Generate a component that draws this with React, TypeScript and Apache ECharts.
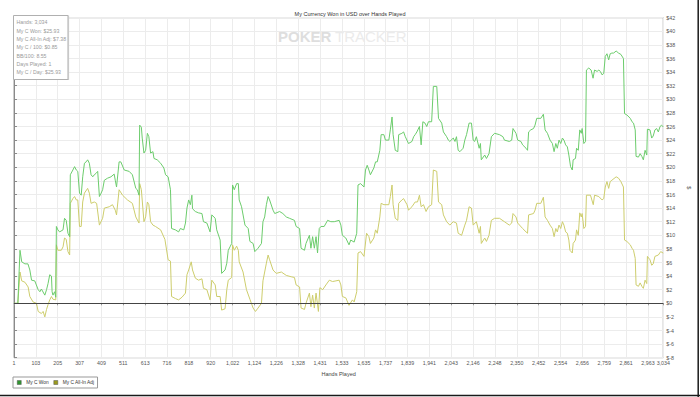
import React, { useEffect, useRef } from "react";
import * as echarts from "echarts";

const FONT = "'Liberation Sans', Arial, sans-serif";

const titleText = "My Currency Won in USD over Hands Played";
const seriesNames = ["My C Won", "My C All-In Adj"];

const xTickLabels = [
  "1", "103", "205", "307", "409", "511", "613", "716", "818", "920",
  "1,022", "1,124", "1,226", "1,328", "1,431", "1,533", "1,635", "1,737", "1,839", "1,941",
  "2,043", "2,146", "2,248", "2,350", "2,452", "2,554", "2,656", "2,759", "2,861", "2,963", "3,034",
];
const totalHands = 3034;
const tickStep = 102.122;

const infoLines = [
  "Hands: 3,034",
  "My C Won: $25.93",
  "My C All-In Adj: $7.38",
  "My C / 100: $0.85",
  "BB/100: 8.55",
  "Days Played: 1",
  "My C / Day: $25.93",
];

const wonHands = [
  1, 19, 29, 37, 52, 66, 75, 83, 98, 114, 122, 129, 145, 153, 160, 168, 176, 179, 183, 191, 196,
  199, 206, 214, 230, 237, 245, 253, 261, 264, 276, 284, 292, 299, 307, 315, 322, 330, 338, 345,
  353, 361, 369, 376, 384, 392, 400, 408, 415, 423, 438, 454, 469, 474, 480, 492, 500, 516, 539,
  554, 570, 577, 585, 588, 596, 600, 608, 616, 624, 631, 639, 650, 655, 670, 686, 701, 709, 721,
  732, 737, 755, 770, 778, 794, 802, 809, 817, 825, 832, 835, 848, 863, 879, 886, 902, 917, 925,
  941, 948, 964, 971, 987, 995, 1002, 1010, 1018, 1022, 1030, 1041, 1049, 1053, 1064, 1080, 1095,
  1103, 1118, 1126, 1141, 1157, 1164, 1172, 1180, 1188, 1195, 1211, 1219, 1242, 1257, 1273, 1288,
  1311, 1319, 1335, 1342, 1358, 1365, 1381, 1388, 1396, 1404, 1412, 1419, 1427, 1435, 1450, 1466,
  1481, 1497, 1520, 1528, 1535, 1551, 1566, 1574, 1590, 1602, 1608, 1620, 1636, 1643, 1651, 1659,
  1666, 1682, 1690, 1698, 1710, 1716, 1729, 1736, 1752, 1759, 1767, 1772, 1782, 1794, 1798, 1813,
  1821, 1829, 1844, 1860, 1868, 1875, 1883, 1895, 1903, 1911, 1921, 1929, 1937, 1952, 1960, 1976,
  1984, 1999, 2007, 2022, 2030, 2037, 2053, 2061, 2068, 2076, 2084, 2099, 2107, 2115, 2127, 2138,
  2146, 2153, 2161, 2174, 2180, 2184, 2200, 2208, 2220, 2231, 2246, 2269, 2285, 2292, 2315, 2326,
  2332, 2346, 2354, 2369, 2377, 2393, 2400, 2405, 2415, 2428, 2435, 2443, 2462, 2474, 2482, 2493,
  2505, 2516, 2524, 2532, 2539, 2547, 2555, 2563, 2570, 2578, 2586, 2593, 2601, 2609, 2613, 2624,
  2629, 2637, 2644, 2651, 2655, 2663, 2671, 2675, 2686, 2697, 2706, 2713, 2725, 2733, 2740, 2748,
  2756, 2763, 2771, 2779, 2786, 2794, 2802, 2814, 2825, 2836, 2848, 2853, 2864, 2880, 2888, 2895,
  2903, 2907, 2918, 2926, 2934, 2941, 2949, 2957, 2960, 2972, 2980, 2987, 2995, 3003, 3011, 3019,
  3026, 3034,
];
const wonValues = [
  0, 0, 7.8, 6.1, 5.8, 5.8, 4.9, 3.4, 3.3, 2.0, 1.7, 2.1, 1.2, 2.0, 2.9, 4.2, 4.0, 1.7, 1.2, 1.7, 0.9,
  11.3, 10.8, 10.5, 10.8, 12.5, 12.2, 10.3, 9.8, 18.9, 19.6, 20.1, 19.6, 19.4, 16.2, 15.9, 18.6, 20.6, 20.8, 21.1,
  20.6, 18.9, 18.6, 18.9, 19.1, 19.4, 15.7, 16.2, 16.7, 18.1, 18.4, 18.6, 19.0, 18.1, 17.1, 20.8, 20.8, 19.6, 19.4,
  18.9, 16.9, 16.7, 15.9, 26.2, 25.9, 24.3, 22.1, 22.5, 25.0, 24.5, 22.1, 22.3, 21.3, 21.1, 20.6, 19.9, 18.9, 18.6,
  16.7, 11.0, 10.8, 10.5, 11.0, 10.8, 11.8, 14.0, 15.2, 14.5, 15.9, 13.9, 13.5, 13.3, 13.2, 12.0, 11.8, 10.5, 13.0,
  12.5, 10.8, 9.3, 4.4, 4.9, 5.9, 7.8, 8.3, 8.8, 17.4, 16.7, 17.6, 17.6, 15.2, 14.2, 11.5, 11.0,
  9.1, 8.8, 7.6, 8.1, 8.8, 12.0, 12.7, 14.5, 15.7, 15.2, 13.7, 13.2, 13.5, 13.2, 12.7, 12.5,
  12.2, 11.3, 11.0, 8.1, 7.8, 8.8, 10.0, 8.1, 9.8, 8.1, 9.8, 7.4, 11.0, 11.3, 11.3, 12.2,
  12.0, 12.0, 12.2, 11.5, 10.0, 9.6, 8.6, 9.3, 9.0, 10.3, 17.4, 17.6, 17.1, 19.6, 20.3, 19.6,
  18.9, 19.9, 20.8, 20.8, 22.5, 24.8, 24.8, 24.0, 24.0, 25.5, 27.4, 24.8, 22.5, 22.3, 24.8, 25.0,
  25.2, 24.5, 23.5, 23.8, 24.5, 24.8, 25.2, 26.0, 23.3, 26.7, 26.5, 26.0, 26.7, 26.7, 31.9, 31.9,
  27.2, 26.5, 25.2, 24.5, 24.0, 23.8, 24.3, 23.8, 24.5, 22.5, 22.3, 22.8, 24.0, 24.8, 26.5, 26.5,
  24.0, 23.8, 24.5, 22.8, 23.5, 21.1, 21.8, 21.3, 22.0, 24.5, 25.0, 24.8, 24.5, 24.0, 23.8, 24.0,
  25.7, 25.0, 24.0, 23.8, 23.3, 22.8, 22.5, 25.2, 25.5, 25.7, 26.2, 27.2, 27.2, 27.8, 25.5, 25.0,
  24.0, 23.5, 22.3, 23.5, 22.8, 24.0, 23.5, 24.3, 24.0, 23.3, 23.0, 21.8, 20.1, 19.6, 21.1, 21.3,
  22.8, 22.5, 25.5, 25.0, 25.7, 23.5, 23.8, 34.3, 34.6, 34.3, 33.1, 34.3, 34.1, 34.3, 34.1, 33.6,
  33.8, 36.3, 36.7, 35.8, 36.7, 36.8, 36.8, 37.1, 36.8, 36.6, 36.0, 27.9, 27.7, 27.2, 26.7, 26.5,
  25.5, 21.6, 21.5, 22.0, 21.6, 21.1, 22.5, 21.8, 25.6, 25.5, 24.3, 24.6, 25.5, 25.7, 25.2, 26.0,
  26.2, 25.93,
];

const adjHands = [
  1, 19, 29, 37, 52, 67, 75, 90, 106, 114, 129, 137, 145, 153, 160, 168, 176, 183, 196,
  199, 206, 222, 230, 237, 245, 253, 261, 264, 276, 284, 292, 299, 307, 315, 322, 330, 345, 353,
  361, 376, 387, 400, 415, 423, 446, 461, 474, 480, 492, 508, 531, 554, 570, 585, 588, 596, 608,
  616, 624, 631, 639, 650, 662, 686, 706, 721, 732, 737, 755, 770, 786, 802, 809, 817, 829, 835,
  848, 863, 879, 886, 902, 917, 925, 941, 948, 964, 971, 987, 995, 1002, 1018, 1022, 1030, 1041,
  1049, 1053, 1071, 1087, 1103, 1118, 1129, 1141, 1157, 1164, 1180, 1188, 1195, 1211, 1226, 1250,
  1273, 1296, 1311, 1319, 1335, 1342, 1358, 1365, 1381, 1388, 1396, 1404, 1412, 1423, 1430, 1443,
  1458, 1474, 1489, 1505, 1520, 1528, 1535, 1551, 1566, 1582, 1590, 1602, 1608, 1620, 1636, 1648,
  1659, 1666, 1682, 1690, 1698, 1710, 1716, 1729, 1752, 1759, 1767, 1772, 1782, 1794, 1798, 1813,
  1821, 1837, 1844, 1860, 1875, 1886, 1895, 1903, 1914, 1926, 1937, 1952, 1960, 1976, 1984, 1999,
  2007, 2022, 2037, 2053, 2068, 2076, 2092, 2107, 2115, 2127, 2138, 2146, 2161, 2174, 2180, 2184,
  2200, 2208, 2220, 2231, 2246, 2269, 2292, 2315, 2326, 2332, 2346, 2354, 2377, 2393, 2400, 2405,
  2428, 2435, 2443, 2462, 2474, 2482, 2493, 2505, 2516, 2524, 2532, 2539, 2547, 2555, 2563, 2570,
  2578, 2586, 2593, 2598, 2609, 2613, 2624, 2629, 2637, 2644, 2651, 2655, 2663, 2671, 2675, 2694,
  2707, 2713, 2733, 2748, 2756, 2763, 2771, 2779, 2786, 2794, 2814, 2825, 2836, 2848, 2853, 2864,
  2880, 2888, 2895, 2903, 2907, 2918, 2926, 2934, 2941, 2949, 2957, 2960, 2972, 2980, 2987, 2995,
  3011, 3022, 3034,
];
const adjValues = [
  0, 0, 4.6, 3.3, 3.1, 2.4, 1.0, 0.2, 0, -1.2, -1.5, -1.2, -2.0, -0.9, -0.2, 0.5, 1.0, 0.6, 0.5,
  8.6, 7.8, 7.8, 8.3, 9.6, 9.4, 7.6, 7.1, 14.7, 15.4, 15.7, 15.2, 15.2, 11.3, 11.3, 14.9, 16.2, 16.9, 16.2,
  14.7, 14.9, 14.7, 11.5, 12.5, 14.0, 14.2, 14.5, 13.7, 13.0, 16.7, 15.9, 15.2, 14.7, 12.7, 11.8, 17.6, 16.7, 12.0,
  12.7, 14.9, 14.5, 12.0, 11.5, 11.3, 10.8, 9.4, 6.4, 6.2, 1.0, 0.7, 0.5, 0.9, 1.5, 4.2, 4.9, 6.1, 4.9,
  3.7, 3.4, 3.6, 2.2, 2.0, 0.5, 3.4, 2.7, 1.0, 1.0, -1.0, -0.8, 2.0, 3.4, 3.8, 8.6, 7.8, 8.4,
  7.8, 6.1, 4.6, 2.0, 0.6, -0.7, -1.2, -0.7, 0.0, 3.3, 5.9, 7.1, 6.4, 4.9, 4.4, 4.6,
  4.1, 3.9, 3.8, 2.7, 2.4, -0.7, -0.9, 0.0, 1.5, -0.5, 1.2, -0.7, 1.5, -1.2, 2.3, 2.0,
  2.7, 3.4, 3.2, 3.3, 3.4, 2.7, 1.0, 0.8, -0.3, 0.5, 0.2, 1.7, 7.4, 7.6, 6.9, 10.3,
  9.8, 8.8, 9.6, 10.8, 10.3, 12.7, 14.7, 14.5, 14.5, 15.7, 17.4, 14.5, 12.5, 12.2, 14.7, 15.2,
  15.4, 14.5, 13.7, 14.2, 14.9, 14.9, 15.9, 14.2, 14.5, 13.5, 14.2, 14.5, 19.6, 19.4, 14.9, 14.5,
  13.0, 12.0, 11.5, 12.0, 11.8, 10.3, 10.0, 11.5, 12.2, 14.2, 14.0, 11.5, 12.0, 10.3, 11.3, 8.8,
  9.6, 9.1, 10.0, 12.2, 12.5, 12.5, 12.0, 11.5, 11.8, 13.2, 12.7, 11.8, 11.0, 10.5, 10.3, 13.0,
  13.2, 13.7, 14.7, 14.7, 15.6, 12.7, 12.2, 11.5, 11.0, 9.8, 11.0, 10.5, 11.5, 11.0, 12.0, 11.5,
  10.5, 10.3, 9.3, 7.8, 7.4, 8.8, 9.3, 10.8, 10.0, 13.3, 12.7, 13.2, 11.0, 11.3, 15.9, 15.9,
  14.5, 15.9, 15.7, 15.2, 15.4, 17.1, 17.9, 16.9, 17.9, 18.1, 18.6, 18.4, 17.9, 17.1, 9.3, 9.1,
  8.6, 8.1, 7.8, 6.6, 2.7, 2.5, 3.0, 2.5, 2.2, 3.4, 2.9, 6.9, 6.4, 5.6, 5.8, 6.9,
  7.1, 7.6, 7.38,
];

const LINE_COLORS = ["#6ccc6c", "#cdcd6c"];
const LEGEND_COLORS = ["#2f962f", "#9a9a1e"];

export default function App() {
  const ref = useRef<HTMLDivElement>(null);

  useEffect(() => {
    if (!ref.current) return;
    const chart = echarts.init(ref.current, null, { renderer: "svg" });

    const wonData = wonHands.map((h, i) => [h - 1, wonValues[i]]);
    const adjData = adjHands.map((h, i) => [h - 1, adjValues[i]]);

    const infoTexts = infoLines.map((t, i) => ({
      type: "text",
      z: 102,
      x: 16.5,
      y: 22.2 + i * 8.35,
      style: {
        text: t,
        fill: "#9a9a9a",
        fontSize: 5.2,
        fontFamily: FONT,
        verticalAlign: "middle",
      },
    }));

    const option: any = {
      animation: false,
      backgroundColor: "#ffffff",
      textStyle: { fontFamily: FONT },
      title: {
        text: titleText,
        left: "center",
        top: 6,
        textStyle: { fontSize: 5.5, fontWeight: "normal", color: "#333", fontFamily: FONT },
      },
      grid: {
        left: 14,
        right: 31.7,
        top: 17.7,
        bottom: 39.3,
        show: true,
        borderColor: "#9a9a9a",
        borderWidth: 1,
      },
      legend: {
        left: 13,
        top: 377,
        orient: "horizontal",
        icon: "rect",
        itemWidth: 4,
        itemHeight: 4,
        itemGap: 5,
        padding: [3, 3, 3, 4],
        borderColor: "#999",
        borderWidth: 1,
        backgroundColor: "#fff",
        textStyle: { fontSize: 4.8, color: "#333", fontFamily: FONT },
        data: seriesNames.map((n, i) => ({ name: n, itemStyle: { color: LEGEND_COLORS[i], borderColor: "#555", borderWidth: 0.5 } })),
      },
      xAxis: {
        type: "value",
        min: 0,
        max: totalHands - 1,
        interval: tickStep,
        name: "Hands Played",
        nameLocation: "middle",
        nameGap: 13,
        nameTextStyle: { fontSize: 5.5, color: "#444", fontFamily: FONT },
        axisLine: { show: true, lineStyle: { color: "#9a9a9a" } },
        axisTick: { show: true, length: 2, lineStyle: { color: "#9a9a9a" } },
        axisLabel: {
          fontSize: 5.3,
          color: "#555",
          margin: 3,
          showMinLabel: true,
          showMaxLabel: true,
          formatter: (v: number) => {
            if (v >= totalHands - 2) return xTickLabels[xTickLabels.length - 1];
            const i = Math.round(v / tickStep);
            return xTickLabels[i] ?? "";
          },
        },
        splitLine: { show: true, lineStyle: { color: "#ececec", width: 1 } },
      },
      yAxis: {
        type: "value",
        position: "right",
        min: -8,
        max: 42,
        interval: 2,
        name: "$",
        nameLocation: "middle",
        nameGap: 17,
        nameRotate: -90,
        nameTextStyle: { fontSize: 5.5, color: "#444", fontFamily: FONT },
        axisLine: { show: true, lineStyle: { color: "#8a8a8a" } },
        axisTick: { show: true, length: 3, lineStyle: { color: "#8a8a8a" } },
        axisLabel: {
          fontSize: 5.3,
          color: "#555",
          margin: 3,
          formatter: (v: number) => "$" + v,
        },
        splitLine: { show: true, lineStyle: { color: "#ececec", width: 1 } },
      },
      series: [
        {
          name: seriesNames[1],
          type: "line",
          data: adjData,
          showSymbol: false,
          symbol: "none",
          lineStyle: { width: 1, color: LINE_COLORS[1] },
          itemStyle: { color: LINE_COLORS[1] },
          z: 3,
        },
        {
          name: seriesNames[0],
          type: "line",
          data: wonData,
          showSymbol: false,
          symbol: "none",
          lineStyle: { width: 1, color: LINE_COLORS[0] },
          itemStyle: { color: LINE_COLORS[0] },
          z: 4,
          markLine: {
            silent: true,
            symbol: ["none", "none"],
            label: { show: false },
            lineStyle: { color: "#444", width: 1, type: "solid" },
            data: [{ yAxis: 0 }],
          },
        },
      ],
      graphic: [
        {
          type: "text",
          z: 1,
          silent: true,
          x: 278,
          y: 36.7,
          style: {
            text: "POKER",
            fill: "#dedede",
            fontSize: 15,
            fontWeight: "bold",
            fontFamily: FONT,
            verticalAlign: "middle",
          },
        },
        {
          type: "text",
          z: 1,
          silent: true,
          x: 335,
          y: 36.7,
          style: {
            text: "TRACKER",
            fill: "#ebebeb",
            fontSize: 15,
            fontFamily: FONT,
            verticalAlign: "middle",
          },
        },
        {
          type: "rect",
          z: 100,
          shape: { x: 13.5, y: 15.5, width: 54.5, height: 64 },
          style: { fill: "#ffffff", stroke: "#b0b0b0", lineWidth: 1 },
        },
        {
          type: "line",
          z: 101,
          shape: { x1: 68.5, y1: 15.5, x2: 68.5, y2: 80 },
          style: { stroke: "#c8c8c8", lineWidth: 1.2 },
        },
        ...infoTexts,
        {
          type: "line",
          z: 100,
          shape: { x1: 0, y1: 395.5, x2: 700, y2: 395.5 },
          style: { stroke: "#1a1a1a", lineWidth: 1.5 },
        },
        {
          type: "line",
          z: 100,
          shape: { x1: 698.2, y1: 0, x2: 698.2, y2: 397 },
          style: { stroke: "#1a1a1a", lineWidth: 1.5 },
        },
      ],
    };

    chart.setOption(option);
    return () => {
      chart.dispose();
    };
  }, []);

  return (
    <div
      ref={ref}
      style={{ position: "absolute", left: 0, top: 0, width: 700, height: 397, background: "#fff" }}
    />
  );
}
